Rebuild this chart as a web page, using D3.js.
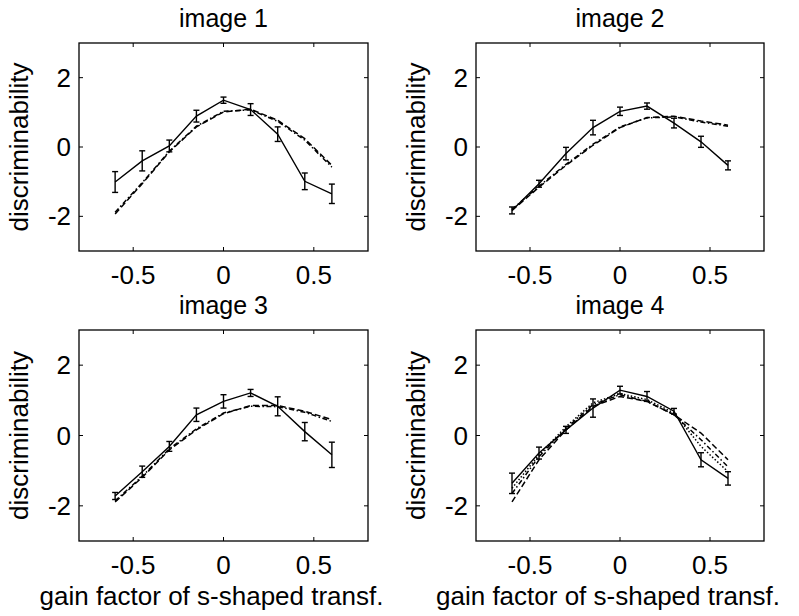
<!DOCTYPE html>
<html>
<head>
<meta charset="utf-8">
<script src="https://cdn.jsdelivr.net/npm/d3@7"></script>
<style>
  body { margin: 0; background: #fff; }
  svg { display: block; }
  text { font-family: "Liberation Sans", Arial, Helvetica, sans-serif; fill: #000; }
</style>
</head>
<body>
<div id="chart"></div>
<script>
// gain values of the s-shaped transform (x)
var gains = [-0.6, -0.45, -0.3, -0.15, 0, 0.15, 0.3, 0.45, 0.6];
var xTicks = [-0.5, 0, 0.5];
var yTicks = [-2, 0, 2];
var titles = ["image 1", "image 2", "image 3", "image 4"];
var xLabel = "gain factor of s-shaped transf.";
var yLabel = "discriminability";

// measured discriminability (solid) and error bar half widths
var img1Data = [-1.01, -0.40, 0.03, 0.89, 1.35, 1.08, 0.37, -0.99, -1.35];
var img1Err  = [0.30, 0.29, 0.17, 0.17, 0.09, 0.17, 0.21, 0.24, 0.28];
var img2Data = [-1.83, -1.06, -0.19, 0.56, 1.03, 1.18, 0.69, 0.15, -0.53];
var img2Err  = [0.10, 0.10, 0.18, 0.21, 0.12, 0.09, 0.14, 0.16, 0.13];
var img3Data = [-1.72, -1.03, -0.31, 0.59, 0.97, 1.21, 0.83, 0.11, -0.55];
var img3Err  = [0.10, 0.16, 0.14, 0.19, 0.19, 0.10, 0.27, 0.26, 0.36];
var img4Data = [-1.36, -0.50, 0.16, 0.78, 1.29, 1.11, 0.69, -0.69, -1.22];
var img4Err  = [0.29, 0.17, 0.10, 0.26, 0.11, 0.14, 0.08, 0.20, 0.19];

// model predictions (broken lines)
var img1ModelA = [-1.93, -1.06, -0.14, 0.58, 1.01, 1.09, 0.77, 0.24, -0.53];
var img1ModelB = [-1.88, -1.03, -0.12, 0.60, 1.03, 1.07, 0.74, 0.20, -0.58];
var img2ModelA = [-1.83, -1.16, -0.53, 0.05, 0.56, 0.85, 0.89, 0.75, 0.63];
var img2ModelB = [-1.80, -1.13, -0.50, 0.08, 0.58, 0.84, 0.87, 0.72, 0.60];
var img3ModelA = [-1.89, -1.19, -0.41, 0.16, 0.62, 0.85, 0.85, 0.69, 0.45];
var img3ModelB = [-1.86, -1.16, -0.38, 0.19, 0.64, 0.83, 0.82, 0.66, 0.40];
var img4ModelA = [-1.89, -0.69, 0.16, 0.83, 1.11, 0.97, 0.59, 0.07, -0.69];
var img4ModelB = [-1.65, -0.60, 0.20, 0.88, 1.16, 0.97, 0.59, -0.12, -0.89];
var img4ModelC = [-1.50, -0.55, 0.25, 0.93, 1.19, 1.02, 0.64, -0.31, -1.03];

var panels = [
    {title: titles[0], data: img1Data, err: img1Err, models: [img1ModelA, img1ModelB], left: 79,  top: 43,  w: 289, h: 208, xlab: false},
    {title: titles[1], data: img2Data, err: img2Err, models: [img2ModelA, img2ModelB], left: 476, top: 43,  w: 288, h: 208, xlab: false},
    {title: titles[2], data: img3Data, err: img3Err, models: [img3ModelA, img3ModelB], left: 79,  top: 330, w: 289, h: 211, xlab: true},
    {title: titles[3], data: img4Data, err: img4Err, models: [img4ModelA, img4ModelB, img4ModelC], left: 476, top: 330, w: 288, h: 211, xlab: true}
];
var dashes = ["6,3", "5,2.5,1.5,2.5", "1.5,2"];

var svg = d3.select("#chart").append("svg")
    .attr("width", 799)
    .attr("height", 616);

function label(g, x, y, str, size, anchor) {
    return g.append("text")
        .attr("x", x)
        .attr("y", y)
        .attr("text-anchor", anchor || "middle")
        .style("font-size", size + "px")
        .text(str);
}

panels.forEach(function(p) {
    var g = svg.append("g").attr("transform", "translate(" + p.left + "," + p.top + ")");

    var x = d3.scaleLinear().domain([-0.8, 0.8]).range([0, p.w]);
    var y = d3.scaleLinear().domain([-3, 3]).range([p.h, 0]);

    // box
    g.append("rect").attr("x", 0).attr("y", 0).attr("width", p.w).attr("height", p.h)
        .style("fill", "none").style("stroke", "#000").style("stroke-width", 1.3);

    // ticks inside, all four sides
    var tl = 4;
    xTicks.forEach(function(t) {
        g.append("line").attr("x1", x(t)).attr("x2", x(t)).attr("y1", p.h).attr("y2", p.h - tl).style("stroke", "#000");
        g.append("line").attr("x1", x(t)).attr("x2", x(t)).attr("y1", 0).attr("y2", tl).style("stroke", "#000");
        label(g, x(t), p.h + 33, t == 0 ? "0" : String(t), 26, "middle");
    });
    yTicks.forEach(function(t) {
        g.append("line").attr("x1", 0).attr("x2", tl).attr("y1", y(t)).attr("y2", y(t)).style("stroke", "#000");
        g.append("line").attr("x1", p.w).attr("x2", p.w - tl).attr("y1", y(t)).attr("y2", y(t)).style("stroke", "#000");
        label(g, -8, y(t) + 9, String(t), 26, "end");
    });

    // title
    label(g, p.w / 2, -16, p.title, 25, "middle");

    // y label
    g.append("text")
        .attr("transform", "translate(" + (-51) + "," + (p.h / 2) + ") rotate(-90)")
        .attr("text-anchor", "middle")
        .style("font-size", "26px")
        .text(yLabel);

    if (p.xlab) {
        label(g, p.w / 2 - 12, p.h + 64, xLabel, 26, "middle");
    }

    var line = d3.line()
        .x(function(d, i) { return x(gains[i]); })
        .y(function(d) { return y(d); });

    // model curves
    p.models.forEach(function(m, k) {
        g.append("path").datum(m)
            .attr("d", line)
            .style("fill", "none")
            .style("stroke", "#000")
            .style("stroke-width", 1.5)
            .style("stroke-dasharray", dashes[k]);
    });

    // data curve
    g.append("path").datum(p.data)
        .attr("d", line)
        .style("fill", "none")
        .style("stroke", "#000")
        .style("stroke-width", 1.4);

    // error bars
    var cap = 3;
    p.data.forEach(function(d, i) {
        var cx = x(gains[i]);
        var y0 = y(d - p.err[i]), y1 = y(d + p.err[i]);
        g.append("line").attr("x1", cx).attr("x2", cx).attr("y1", y0).attr("y2", y1).style("stroke", "#000").style("stroke-width", 1.4);
        g.append("line").attr("x1", cx - cap).attr("x2", cx + cap).attr("y1", y0).attr("y2", y0).style("stroke", "#000").style("stroke-width", 1.4);
        g.append("line").attr("x1", cx - cap).attr("x2", cx + cap).attr("y1", y1).attr("y2", y1).style("stroke", "#000").style("stroke-width", 1.4);
    });
});
</script>
</body>
</html>
